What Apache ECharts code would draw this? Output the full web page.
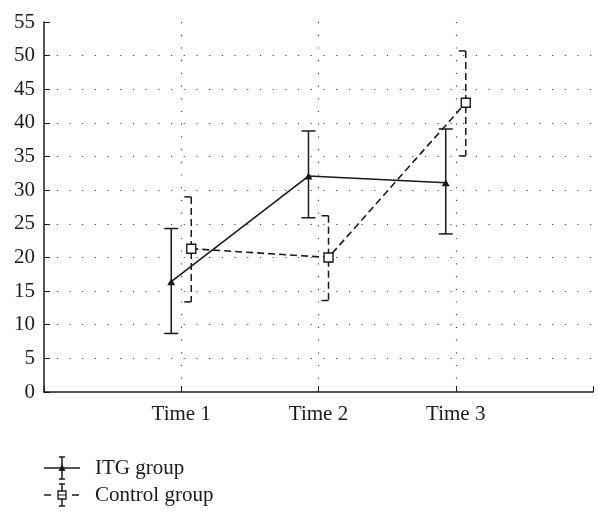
<!DOCTYPE html>
<html>
<head>
<meta charset="utf-8">
<script src="https://cdn.jsdelivr.net/npm/echarts@6/dist/echarts.min.js"></script>
<style>
  html, body { margin: 0; padding: 0; background: #fff; }
  #chart { width: 607px; height: 522px; }
</style>
</head>
<body>
<div id="chart"></div>
<script>
var timeLabels = ['Time 1', 'Time 2', 'Time 3'];
var seriesNames = ['ITG group', 'Control group'];

// means and error bar ends
var itgMean = [16.4, 32.1, 31.1];
var itgLow = [8.7, 25.9, 23.5];
var itgHigh = [24.3, 38.8, 39.1];

var ctrlMean = [21.3, 20.0, 43.0];
var ctrlLow = [13.4, 13.6, 35.1];
var ctrlHigh = [29.0, 26.2, 50.7];

var yTicks = [0, 5, 10, 15, 20, 25, 30, 35, 40, 45, 50, 55];

var shift = 0.073; // groups drawn a bit left / right of each time point
var ink = '#1a1a1a';
var serif = '"Liberation Serif", "DejaVu Serif", serif';
var fontPx = 21;

function points(means, off) {
    return means.map(function (v, i) { return [i + 1 + off, v]; });
}
function bars(low, high, off) {
    return low.map(function (v, i) { return [i + 1 + off, v, high[i]]; });
}

// error bar drawer; capL / capR = cap length on each side
function errorBar(capL, capR, dash) {
    return function (params, api) {
        var x = api.value(0);
        var lo = api.coord([x, api.value(1)]);
        var hi = api.coord([x, api.value(2)]);
        var st = { stroke: ink, lineWidth: 1.5, fill: null };
        var vst = { stroke: ink, lineWidth: 1.5, fill: null, lineDash: dash };
        return {
            type: 'group',
            children: [
                { type: 'line', shape: { x1: hi[0], y1: hi[1], x2: lo[0], y2: lo[1] }, style: vst },
                { type: 'line', shape: { x1: hi[0] - capL, y1: hi[1], x2: hi[0] + capR, y2: hi[1] }, style: st },
                { type: 'line', shape: { x1: lo[0] - capL, y1: lo[1], x2: lo[0] + capR, y2: lo[1] }, style: st }
            ]
        };
    };
}

var chart = echarts.init(document.getElementById('chart'));

// legend drawn by hand so the icons can carry the error bar
function legendIcon(y, dashed, symbol) {
    var st = { stroke: ink, lineWidth: 1.5, fill: null };
    var items = [];
    if (dashed) {
        items.push({ type: 'line', shape: { x1: 44, y1: y, x2: 51, y2: y }, style: st });
        items.push({ type: 'line', shape: { x1: 72, y1: y, x2: 79, y2: y }, style: st });
    } else {
        items.push({ type: 'line', shape: { x1: 44, y1: y, x2: 80, y2: y }, style: st });
    }
    items.push({ type: 'line', shape: { x1: 62, y1: y - 11, x2: 62, y2: y + 11 }, style: st });
    items.push({ type: 'line', shape: { x1: 59, y1: y - 11, x2: 65, y2: y - 11 }, style: st });
    items.push({ type: 'line', shape: { x1: 59, y1: y + 11, x2: 65, y2: y + 11 }, style: st });
    if (symbol === 'triangle') {
        items.push({ type: 'polygon', shape: { points: [[62, y - 4], [58.5, y + 3], [65.5, y + 3]] }, style: { fill: ink } });
    } else {
        items.push({ type: 'rect', shape: { x: 58, y: y - 4, width: 8, height: 8 }, style: { fill: '#fff', stroke: ink, lineWidth: 1.3 } });
        items.push({ type: 'line', shape: { x1: 58, y1: y, x2: 66, y2: y }, style: { stroke: ink, lineWidth: 1 } });
    }
    return items;
}

var legendGraphic = [].concat(
    legendIcon(468, false, 'triangle'),
    legendIcon(495, true, 'rect'),
    [
        { type: 'text', x: 95, y: 468, style: { text: seriesNames[0], font: fontPx + 'px ' + serif, fill: ink, verticalAlign: 'middle' } },
        { type: 'text', x: 95, y: 495, style: { text: seriesNames[1], font: fontPx + 'px ' + serif, fill: ink, verticalAlign: 'middle' } }
    ]
);

var dotted = { color: '#444', width: 1.2, type: [1.2, 11.5] };

var option = {
    animation: false,
    backgroundColor: '#fff',
    grid: { left: 44, right: 14, top: 22, bottom: 130 },
    xAxis: {
        type: 'value',
        min: 0,
        max: 4,
        interval: 1,
        axisLine: { lineStyle: { color: ink, width: 1.5 } },
        axisTick: { inside: true, length: 6, lineStyle: { color: ink, width: 1 } },
        axisLabel: {
            margin: 12,
            color: ink,
            fontFamily: serif,
            fontSize: fontPx,
            formatter: function (v) { return timeLabels[v - 1] || ''; }
        },
        splitLine: { show: true, showMinLine: false, showMaxLine: false, lineStyle: dotted }
    },
    yAxis: {
        type: 'value',
        min: yTicks[0],
        max: yTicks[yTicks.length - 1],
        interval: 5,
        axisLine: { show: true, lineStyle: { color: ink, width: 1.5 } },
        axisTick: { show: true, inside: true, length: 6, lineStyle: { color: ink, width: 1 } },
        axisLabel: { margin: 9, color: ink, fontFamily: serif, fontSize: fontPx },
        splitLine: { show: true, showMinLine: false, showMaxLine: false, lineStyle: dotted }
    },
    series: [
        {
            name: seriesNames[0] + ' bars',
            type: 'custom',
            renderItem: errorBar(7, 7, null),
            data: bars(itgLow, itgHigh, -shift),
            z: 2
        },
        {
            name: seriesNames[1] + ' bars',
            type: 'custom',
            renderItem: errorBar(7, 0, [7, 4]),
            data: bars(ctrlLow, ctrlHigh, shift),
            z: 2
        },
        {
            name: seriesNames[0],
            type: 'line',
            data: points(itgMean, -shift),
            symbol: 'triangle',
            symbolSize: [8, 7],
            itemStyle: { color: ink },
            lineStyle: { color: ink, width: 1.6 },
            z: 3
        },
        {
            name: seriesNames[1],
            type: 'line',
            data: points(ctrlMean, shift),
            symbol: 'rect',
            symbolSize: 9,
            itemStyle: { color: '#fff', borderColor: ink, borderWidth: 1.4 },
            lineStyle: { color: ink, width: 1.6, type: [7, 4] },
            z: 4
        }
    ],
    graphic: legendGraphic
};

chart.setOption(option);
</script>
</body>
</html>
